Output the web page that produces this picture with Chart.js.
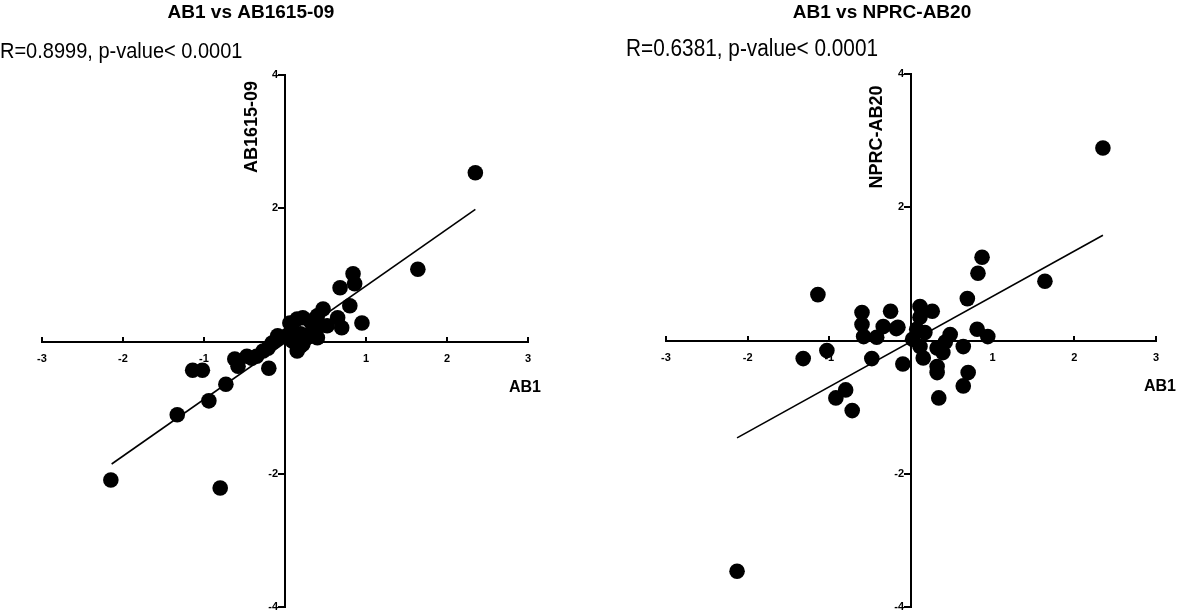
<!DOCTYPE html>
<html>
<head>
<meta charset="utf-8">
<script src="https://cdn.jsdelivr.net/npm/chart.js@4.4.1/dist/chart.umd.min.js"></script>
<style>
  html, body { margin: 0; padding: 0; background: #fff; }
  body { width: 1177px; height: 615px; position: relative; overflow: hidden; }
  canvas { position: absolute; top: 0; }
  #c1 { left: 0; }
  #c2 { left: 590px; }
</style>
</head>
<body>
<canvas id="c1" width="590" height="615"></canvas>
<canvas id="c2" width="587" height="615"></canvas>
<script>
// ---------- Data ----------
const xTickValues = [-3, -2, -1, 0, 1, 2, 3];
const yTickValues = [-4, -2, 0, 2, 4];

// Panel 1: AB1 vs AB1615-09
const leftTitle = "AB1 vs AB1615-09";
const leftStat = "R=0.8999, p-value< 0.0001";
const leftXLabel = "AB1";
const leftYLabel = "AB1615-09";
const leftX = [2.35, 1.64, 0.84, 0.86, 0.68, 0.80, 0.95, 0.70, 0.65, 0.52, 0.47, 0.40, 0.31, 0.22, 0.15, 0.06, 0.10, 0.19, 0.27, 0.35, 0.43, 0.15, 0.22, 0.40, -0.09, -0.10, -0.16, -0.21, -0.27, -0.35, -0.41, -0.47, -0.58, -0.62, -0.20, -1.14, -1.02, -0.73, -0.94, -1.33, -2.15, -0.80, 0.02, 0.09, 0.19];
const leftY = [2.53, 1.08, 1.01, 0.86, 0.80, 0.53, 0.27, 0.20, 0.35, 0.23, 0.48, 0.38, 0.30, 0.35, 0.33, 0.27, 0.15, 0.11, 0.05, 0.15, 0.23, -0.15, -0.05, 0.05, 0.08, 0.03, -0.03, -0.11, -0.15, -0.23, -0.26, -0.23, -0.38, -0.27, -0.41, -0.44, -0.44, -0.65, -0.90, -1.11, -2.09, -2.21, 0.08, 0.00, -0.08];
const leftFitX = [-2.14, 2.35];
const leftFitY = [-1.85, 1.98];

// Panel 2: AB1 vs NPRC-AB20
const rightTitle = "AB1 vs NPRC-AB20";
const rightStat = "R=0.6381, p-value< 0.0001";
const rightXLabel = "AB1";
const rightYLabel = "NPRC-AB20";
const rightX = [2.35, 1.64, 0.87, 0.82, 0.69, 0.94, 0.81, 0.64, 0.48, 0.42, 0.32, 0.39, 0.26, 0.11, 0.11, 0.07, 0.17, 0.02, 0.11, 0.15, -0.10, 0.32, 0.32, 0.70, 0.64, 0.34, -0.16, -0.25, -0.18, -0.34, -0.42, -0.58, -0.60, -0.60, -0.48, -1.03, -1.14, -1.32, -0.80, -0.92, -0.72, -2.13];
const rightY = [2.89, 0.89, 1.25, 1.01, 0.63, 0.06, 0.17, -0.09, 0.09, -0.02, -0.11, -0.18, 0.44, 0.51, 0.35, 0.17, 0.12, 0.02, -0.09, -0.26, -0.35, -0.39, -0.48, -0.48, -0.68, -0.86, 0.20, 0.44, 0.18, 0.21, 0.05, 0.06, 0.24, 0.42, -0.27, -0.15, 0.69, -0.27, -0.74, -0.86, -1.05, -3.46];
const rightFitX = [-2.13, 2.35];
const rightFitY = [-1.46, 1.58];

// ---------- Rendering ----------
const FONT = "'Liberation Sans', Arial, Helvetica, sans-serif";
Chart.defaults.font.family = FONT;
Chart.defaults.color = '#000';

const zip = (xs, ys) => xs.map((x, i) => ({ x: x, y: ys[i] }));

const textPlugin = {
  id: 'panelText',
  afterDraw(chart, args, opts) {
    const ctx = chart.ctx;
    ctx.save();
    ctx.fillStyle = '#000';
    // title
    ctx.font = 'bold 19px ' + FONT;
    ctx.textAlign = 'center';
    ctx.textBaseline = 'alphabetic';
    ctx.fillText(opts.title, opts.titleX, opts.titleY);
    // stats (slightly taller glyphs, as in the reference)
    ctx.save();
    ctx.font = opts.statSize + 'px ' + FONT;
    ctx.textAlign = 'left';
    ctx.translate(opts.statX, opts.statY);
    ctx.scale(1, 1.12);
    ctx.fillText(opts.stat, 0, 0);
    ctx.restore();
    // x-axis title
    ctx.font = 'bold 16px ' + FONT;
    ctx.textAlign = 'right';
    ctx.fillText(opts.xLabel, opts.xLabelX, opts.xLabelY);
    // y-axis title
    ctx.font = 'bold 18px ' + FONT;
    ctx.translate(opts.yLabelX, opts.yLabelY);
    ctx.rotate(-Math.PI / 2);
    ctx.textAlign = 'center';
    ctx.textBaseline = 'middle';
    ctx.fillText(opts.yLabel, 0, 0);
    ctx.restore();
  }
};

function makeChart(id, pts, fit, pad, text) {
  return new Chart(document.getElementById(id), {
    type: 'scatter',
    data: {
      datasets: [
        {
          data: zip(fit[0], fit[1]),
          showLine: true,
          borderColor: '#000',
          borderWidth: 1.6,
          pointRadius: 0,
          fill: false
        },
        {
          data: zip(pts[0], pts[1]),
          backgroundColor: '#000',
          borderColor: '#000',
          borderWidth: 0,
          pointRadius: 7.8,
          pointHoverRadius: 7.8
        }
      ]
    },
    options: {
      responsive: false,
      animation: false,
      devicePixelRatio: 1,
      events: [],
      layout: { padding: pad },
      plugins: {
        legend: { display: false },
        tooltip: { enabled: false },
        panelText: text
      },
      scales: {
        x: {
          type: 'linear',
          position: 'center',
          min: xTickValues[0],
          max: xTickValues[xTickValues.length - 1],
          afterBuildTicks: (s) => { s.ticks = xTickValues.map(v => ({ value: v })); },
          border: { display: true, color: '#000', width: 2 },
          grid: { drawOnChartArea: false, drawTicks: true, tickLength: -6, color: '#000', lineWidth: 2 },
          ticks: {
            autoSkip: false,
            maxRotation: 0,
            padding: 17,
            color: '#000',
            font: { size: 11, weight: 'bold' },
            callback: (v) => (v === 0 ? '' : String(v))
          }
        },
        y: {
          type: 'linear',
          position: 'center',
          min: yTickValues[0],
          max: yTickValues[yTickValues.length - 1],
          afterBuildTicks: (s) => { s.ticks = yTickValues.map(v => ({ value: v })); },
          border: { display: true, color: '#000', width: 2 },
          grid: { drawOnChartArea: false, drawTicks: true, tickLength: 6, color: '#000', lineWidth: 2 },
          ticks: {
            autoSkip: false,
            padding: 1,
            color: '#000',
            font: { size: 11, weight: 'bold' },
            callback: (v) => (v === 0 ? '' : String(v))
          }
        }
      }
    },
    plugins: [textPlugin]
  });
}

makeChart('c1', [leftX, leftY], [leftFitX, leftFitY],
  { left: 42, right: 62, top: 75, bottom: 8 },
  { title: leftTitle, titleX: 251, titleY: 18,
    stat: leftStat, statSize: 20, statX: 0, statY: 58,
    xLabel: leftXLabel, xLabelX: 541, xLabelY: 392,
    yLabel: leftYLabel, yLabelX: 252, yLabelY: 127 });

makeChart('c2', [rightX, rightY], [rightFitX, rightFitY],
  { left: 76, right: 21, top: 74, bottom: 5 },
  { title: rightTitle, titleX: 292, titleY: 18,
    stat: rightStat, statSize: 20.8, statX: 36, statY: 56,
    xLabel: rightXLabel, xLabelX: 586, xLabelY: 391,
    yLabel: rightYLabel, yLabelX: 287, yLabelY: 137 });
</script>
</body>
</html>
